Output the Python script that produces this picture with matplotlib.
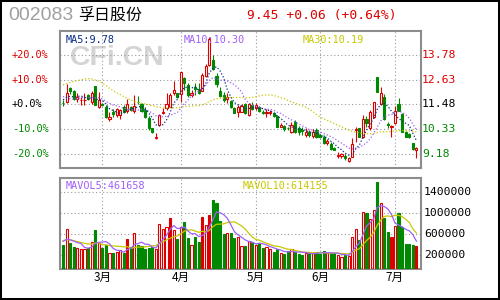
import numpy as np
import matplotlib
matplotlib.use("Agg")
import matplotlib.pyplot as plt
from matplotlib.patches import Rectangle
from matplotlib.transforms import blended_transform_factory

# ---------------- data ----------------
stock_code = "002083"
stock_name = "孚日股份"
quote_text = "9.45 +0.06 (+0.64%)"

opens = [11.55, 11.60, 12.22, 12.11, 11.71, 11.66, 11.66, 11.91, 11.60, 12.33,
         11.37, 11.50, 11.37, 10.78, 11.12, 10.98, 11.00, 11.37, 11.18, 11.37,
         11.17, 11.60, 11.48, 11.22, 10.83, 10.36, 9.94, 10.52, 11.10, 11.30,
         11.34, 11.99, 11.99, 11.97, 12.69, 12.38, 11.93, 12.30, 12.17, 12.11,
         12.79, 13.30, 13.54, 12.79, 12.11, 11.91, 11.71, 11.64, 11.29, 11.14,
         11.14, 11.48, 10.98, 11.45, 11.30, 11.37, 11.14, 11.10, 11.10, 11.09,
         10.94, 10.44, 10.47, 10.38, 10.21, 10.67, 10.40, 10.30, 10.06, 10.21,
         10.02, 10.29, 10.06, 9.98, 9.68, 9.66, 9.46, 9.08, 9.10, 9.08,
         8.86, 9.05, 10.30, 10.36, 9.95, 10.80, 10.36, 10.87, 12.76, 11.49,
         11.80, 10.58, 10.42, 10.63, 11.49, 11.03, 10.18, 10.10, 9.67, 9.38]
highs = [11.68, 12.40, 12.30, 12.14, 11.99, 11.83, 12.02, 11.95, 12.11, 12.33,
         12.07, 11.55, 11.45, 11.13, 11.25, 11.30, 11.25, 11.45, 11.71, 11.40,
         11.90, 11.87, 11.56, 11.37, 10.94, 10.40, 10.13, 11.03, 11.30, 12.00,
         12.02, 12.56, 12.02, 12.99, 12.76, 12.45, 12.14, 12.48, 12.45, 12.92,
         13.35, 14.60, 13.77, 12.92, 12.30, 12.07, 11.99, 11.68, 11.37, 11.45,
         11.48, 11.52, 11.52, 11.60, 11.52, 11.40, 11.20, 11.26, 11.21, 11.14,
         10.98, 10.60, 10.52, 10.44, 10.67, 10.75, 10.47, 10.41, 10.36, 10.29,
         10.32, 10.36, 10.10, 10.06, 9.85, 9.74, 9.50, 9.28, 9.24, 9.16,
         9.05, 9.90, 10.41, 10.40, 10.98, 10.95, 11.20, 11.60, 12.76, 12.30,
         11.95, 10.65, 10.52, 11.40, 11.75, 11.06, 10.22, 10.15, 9.70, 9.52]
lows = [11.40, 11.52, 11.98, 11.68, 11.60, 11.45, 11.45, 11.68, 11.48, 11.43,
        11.32, 11.42, 10.83, 10.72, 10.90, 10.90, 10.80, 11.09, 11.09, 11.18,
        11.10, 11.48, 11.14, 10.83, 10.29, 10.17, 9.88, 10.47, 11.03, 11.22,
        11.34, 11.91, 11.78, 11.60, 12.14, 11.83, 11.83, 11.91, 11.96, 12.11,
        12.76, 13.25, 13.07, 12.30, 11.83, 11.60, 11.52, 11.29, 11.06, 10.90,
        11.12, 11.03, 10.94, 11.22, 11.22, 11.12, 11.03, 10.88, 10.98, 10.90,
        10.41, 10.41, 10.25, 10.29, 10.13, 10.13, 10.06, 10.06, 9.98, 9.98,
        9.94, 9.90, 9.94, 9.62, 9.60, 9.36, 9.34, 8.97, 8.97, 8.92,
        8.82, 9.05, 9.75, 9.95, 9.92, 10.45, 10.30, 10.84, 12.07, 11.45,
        10.75, 10.40, 9.98, 10.55, 11.15, 10.20, 9.95, 9.90, 9.36, 8.97]
closes = [11.53, 12.02, 12.11, 11.71, 11.83, 11.68, 11.70, 11.71, 11.99, 11.45,
          11.68, 11.46, 10.90, 10.90, 11.05, 11.25, 11.20, 11.14, 11.48, 11.22,
          11.42, 11.57, 11.17, 10.90, 10.40, 10.21, 9.97, 10.98, 11.14, 11.48,
          11.93, 12.15, 11.81, 12.96, 12.48, 11.91, 12.00, 12.17, 11.99, 12.84,
          13.26, 14.50, 13.10, 12.41, 11.87, 11.68, 11.80, 11.37, 11.09, 11.37,
          11.42, 11.06, 11.48, 11.26, 11.45, 11.17, 11.06, 11.12, 11.12, 10.94,
          10.44, 10.52, 10.32, 10.36, 10.52, 10.21, 10.20, 10.26, 10.21, 10.06,
          10.21, 9.98, 9.98, 9.70, 9.78, 9.43, 9.38, 9.13, 9.16, 8.97,
          8.97, 9.64, 10.33, 9.98, 10.80, 10.60, 11.14, 11.60, 12.07, 11.99,
          10.78, 10.52, 10.46, 11.18, 11.18, 10.20, 9.98, 9.95, 9.39, 9.45]
volumes = [391000, 691000, 423000, 353000, 327000, 315000, 315000, 340000, 449000, 678000,
           430000, 334000, 398000, 238000, 238000, 257000, 289000, 238000, 506000, 347000,
           615000, 391000, 366000, 315000, 327000, 359000, 308000, 793000, 697000, 742000,
           902000, 678000, 512000, 742000, 838000, 531000, 391000, 550000, 455000, 934000,
           774000, 965000, 1250000, 1200000, 851000, 595000, 627000, 627000, 531000, 550000,
           372000, 372000, 468000, 455000, 391000, 436000, 327000, 347000, 315000, 264000,
           308000, 232000, 212000, 276000, 315000, 264000, 212000, 200000, 244000, 232000,
           232000, 264000, 212000, 276000, 232000, 232000, 232000, 200000, 168000, 200000,
           181000, 551000, 698000, 487000, 1016000, 997000, 882000, 1060000, 1590000, 1190000,
           914000, 646000, 551000, 755000, 997000, 742000, 410000, 410000, 391000, 372000]
# closes / volumes before the first visible day (feed the moving averages)
prev_closes = [10.3, 10.4, 10.5, 10.6, 10.7, 10.7, 10.9,
               12.3, 13.0, 13.6, 14.0, 14.3, 14.5, 14.4, 14.1, 14.0, 13.9, 13.8, 13.6, 13.4,
               12.9, 12.4, 11.9, 11.5, 11.35, 11.5, 11.8, 11.9, 11.72]
prev_volumes = [500000, 470000, 520000, 480000, 475000, 490000, 460000, 484000, 470000]
solid_red_volume_days = [18, 30, 39, 41, 92, 99]

month_labels = ["3月", "4月", "5月", "6月", "7月"]
month_starts = [11, 33, 54, 72, 93]
price_ticks = [13.78, 12.63, 11.48, 10.33, 9.18]
price_tick_labels = ["13.78", "12.63", "11.48", "10.33", "9.18"]
pct_labels = ["+20.0%", "+10.0%", "+0.0%", "-10.0%", "-20.0%"]
vol_ticks = [1400000, 1000000, 600000, 200000]
vol_tick_labels = ["1400000", "1000000", "600000", "200000"]
ma_texts = ["MA5:9.78", "MA10:10.30", "MA30:10.19"]
mavol_texts = ["MAVOL5:461658", "MAVOL10:614155"]

# ---------------- styles ----------------
RED = "#DD0000"
GREEN = "#008800"
C_MA5 = "#0A2E86"
C_MA10 = "#A060F8"
C_MA30 = "#C8C800"
FRAME = "#8C8C8C"
GRID = "#9A9A9A"
MONO = "DejaVu Sans Mono"
CJK = ["Noto Sans CJK SC", "DejaVu Sans"]

W, H = 500, 300
fig = plt.figure(figsize=(5, 3), dpi=100)
fig.patch.set_facecolor("white")

def fx(px):
    return px / W

def fy(py):
    return 1 - py / H

L_PX, R_PX = 60, 420.7
ax = fig.add_axes([fx(L_PX), fy(167.7), fx(R_PX - L_PX), (167.7 - 31) / H])
axv = fig.add_axes([fx(L_PX), fy(269), fx(R_PX - L_PX), (269 - 178) / H])

o = np.array(opens); h = np.array(highs); l = np.array(lows); c = np.array(closes)
v = np.array(volumes, dtype=float)
x = np.arange(len(c))
up = c >= o

allc = np.array(prev_closes + closes)
def ma(arr, n):
    return np.convolve(arr, np.ones(n) / n, mode="valid")[-len(c):]
ma5, ma10, ma30 = ma(allc, 5), ma(allc, 10), ma(allc, 30)
allv = np.array(prev_volumes + volumes, dtype=float)
mv5, mv10 = ma(allv, 5), ma(allv, 10)

XLIM = (-0.85, 100.2)
for a in (ax, axv):
    a.set_xlim(*XLIM)
    a.set_xticks([]); a.set_yticks([])
    for s in a.spines.values():
        s.set_color(FRAME); s.set_linewidth(1.5)
    a.set_facecolor("white")

# ---- price panel ----
ax.set_ylim(8.54, 14.88)
for p in price_ticks:
    ax.axhline(p, color=GRID, lw=0.8, ls=(0, (1, 2.2)), zorder=1)
for m in month_starts:
    ax.axvline(m, color=GRID, lw=0.8, ls=(0, (1, 2.2)), zorder=1)

ax.text(fx(70), 0.80, "CFi.CN", transform=blended_transform_factory(fig.transFigure, ax.transAxes),
        fontsize=20.5, fontweight="bold", family="Liberation Sans", color="#D4D4D4",
        va="center", ha="left", zorder=0.5)

cols = np.where(up, RED, GREEN)
faces = np.where(up, "white", GREEN)
ax.vlines(x, l, h, colors=cols, lw=0.8, zorder=2)
body_bottom = np.minimum(o, c)
body_h = np.maximum(np.abs(c - o), 0.012)
ax.bar(x, body_h, bottom=body_bottom, width=0.6, color=faces, edgecolor=cols,
       linewidth=0.8, zorder=3)

dot = (0, (1, 1.6))
ax.plot(x, ma30, color=C_MA30, lw=0.9, ls=dot, zorder=4)
ax.plot(x, ma10, color=C_MA10, lw=0.9, ls=dot, zorder=4)
ax.plot(x, ma5, color=C_MA5, lw=0.9, ls=dot, zorder=4)

tr_fig_y = fig.transFigure
ax_y_label = blended_transform_factory(fig.transFigure, ax.transData)
pct_colors = [RED, RED, "black", GREEN, GREEN]
for p, lab, pc in zip(price_ticks, pct_labels, pct_colors):
    fig.text(fx(12), 0, lab, transform=ax_y_label, color=pc, fontsize=7.4, family=MONO,
             va="center", ha="left") if False else None
    ax.text(fx(12), p, lab, transform=ax_y_label, color=pc, fontsize=7.4, family=MONO,
            va="center", ha="left")
for p, lab, pc in zip(price_ticks, price_tick_labels, pct_colors):
    ax.text(fx(422), p, lab, transform=ax_y_label, color=pc, fontsize=8.2, family=MONO,
            va="center", ha="left")

for txt, xp, col in zip(ma_texts, [66, 184, 303], [C_MA5, C_MA10, C_MA30]):
    fig.text(fx(xp), fy(40), txt, color=col, fontsize=7.3, family=MONO, va="center", ha="left")

# ---- volume panel ----
axv.set_ylim(-68000, 1673000)
for t in vol_ticks:
    axv.axhline(t, color=GRID, lw=0.8, ls=(0, (1, 2.2)), zorder=1)
for m in month_starts:
    axv.axvline(m, color=GRID, lw=0.8, ls=(0, (1, 2.2)), zorder=1)

vfaces = np.array(faces, dtype=object)
for d in solid_red_volume_days:
    if up[d]:
        vfaces[d] = RED
base = axv.get_ylim()[0]
axv.bar(x, v - base, bottom=base, width=0.6, color=list(vfaces), edgecolor=cols,
        linewidth=0.8, zorder=3)
axv.plot(x, mv10, color=C_MA30, lw=0.9, zorder=4)
axv.plot(x, mv5, color=C_MA10, lw=0.9, zorder=4)

axv_y_label = blended_transform_factory(fig.transFigure, axv.transData)
for t, lab in zip(vol_ticks, vol_tick_labels):
    axv.text(fx(424), t, lab, transform=axv_y_label, color="black", fontsize=8.2,
             family=MONO, va="center", ha="left")

for txt, xp, col in zip(mavol_texts, [66, 243], [C_MA10, C_MA30]):
    fig.text(fx(xp), fy(186), txt, color=col, fontsize=7.3, family=MONO, va="center", ha="left")

month_tr = blended_transform_factory(axv.transData, fig.transFigure)
for m, lab in zip(month_starts, month_labels):
    axv.text(m, fy(277.5), lab, transform=month_tr, fontsize=8.4, family=CJK,
             va="center", ha="center", color="black")

# ---- title ----
fig.text(fx(8), fy(15.5), stock_code, color="#A0A0A0", fontsize=14, family="Liberation Sans",
         va="center", ha="left")
fig.text(fx(78), fy(15.5), stock_name, color="black", fontsize=11.5, family=CJK,
         va="center", ha="left")
fig.text(fx(247), fy(15.5), quote_text, color=RED, fontsize=9.4, family=MONO,
         va="center", ha="left")

# outer frame
fig.patches.append(Rectangle((0, 0), 1, 1, transform=fig.transFigure, fill=False,
                             edgecolor="black", linewidth=2.9))

fig.savefig("out.png", dpi=100, facecolor="white")
